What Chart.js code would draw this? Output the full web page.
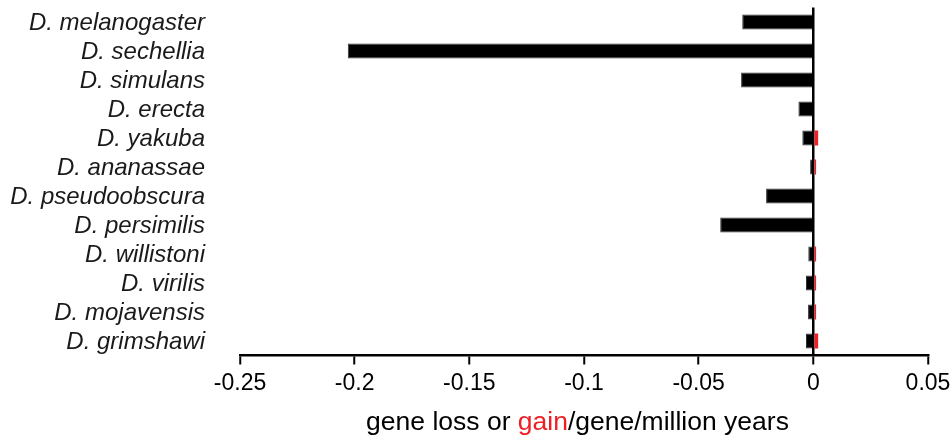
<!DOCTYPE html>
<html>
<head>
<meta charset="utf-8">
<script src="https://cdn.jsdelivr.net/npm/chart.js@4.4.1/dist/chart.umd.min.js"></script>
<style>
  html, body { margin: 0; padding: 0; background: #fff; }
  #wrap { position: relative; width: 952px; height: 440px; }
</style>
</head>
<body>
<div id="wrap"><canvas id="c" width="952" height="440"></canvas></div>
<script>
const species = ['D. melanogaster','D. sechellia','D. simulans','D. erecta','D. yakuba','D. ananassae','D. pseudoobscura','D. persimilis','D. willistoni','D. virilis','D. mojavensis','D. grimshawi'];
const lossValues = [-0.031, -0.203, -0.0315, -0.0065, -0.0048, -0.0014, -0.0206, -0.0406, -0.0022, -0.0032, -0.0023, -0.0032];
const gainValues = [0, 0, 0, 0, 0.0021, 0.0012, 0, 0, 0.0012, 0.0012, 0.0012, 0.0021];
const xTickValues = [-0.25, -0.2, -0.15, -0.1, -0.05, 0, 0.05];
const xTickLabels = ['-0.25', '-0.2', '-0.15', '-0.1', '-0.05', '0', '0.05'];
const titleParts = [['gene loss or ', '#000'], ['gain', '#ee1f25'], ['/gene/million years', '#000']];

const FONT = '"Liberation Sans", Arial, sans-serif';

const titlePlugin = {
  id: 'multiColorTitle',
  afterDraw(chart) {
    const ctx = chart.ctx;
    ctx.save();
    ctx.font = '26.5px ' + FONT;
    ctx.textBaseline = 'middle';
    ctx.textAlign = 'left';
    let total = 0;
    titleParts.forEach(p => total += ctx.measureText(p[0]).width);
    let x = 577.5 - total / 2;
    const y = 423;
    titleParts.forEach(p => {
      ctx.fillStyle = p[1];
      ctx.fillText(p[0], x, y);
      x += ctx.measureText(p[0]).width;
    });
    ctx.restore();
  }
};

new Chart(document.getElementById('c'), {
  type: 'bar',
  data: {
    labels: species,
    datasets: [
      { label: 'loss', data: lossValues, backgroundColor: '#000', borderColor: '#333', borderWidth: 1, categoryPercentage: 0.52, barPercentage: 1 },
      { label: 'gain', data: gainValues, backgroundColor: '#ee1f25', borderColor: '#ee1f25', borderWidth: 0, categoryPercentage: 0.52, barPercentage: 1 }
    ]
  },
  options: {
    indexAxis: 'y',
    responsive: false,
    animation: false,
    layout: { padding: { top: 7.5, right: 24, left: 0, bottom: 0 } },
    plugins: { legend: { display: false }, tooltip: { enabled: false }, title: { display: false } },
    scales: {
      x: {
        type: 'linear',
        stacked: true,
        min: -0.25,
        max: 0.05,
        z: 1,
        afterBuildTicks(scale) { scale.ticks = xTickValues.map(v => ({ value: v })); },
        afterFit(scale) { scale.height = 84.5; scale.paddingLeft = 0; scale.paddingRight = 0; },
        ticks: {
          autoSkip: false,
          maxRotation: 0,
          color: '#000',
          padding: 5,
          font: { family: FONT, size: 23 },
          callback(value) { const i = xTickValues.findIndex(t => Math.abs(t - value) < 1e-9); return i >= 0 ? xTickLabels[i] : ''; }
        },
        grid: {
          drawOnChartArea: true,
          color: ctx => (ctx.tick && Math.abs(ctx.tick.value) < 1e-9) ? '#000' : 'rgba(0,0,0,0)',
          lineWidth: 2.5,
          tickColor: '#000',
          tickLength: 9,
          tickWidth: 2
        },
        border: { display: true, color: '#000', width: 2.5 }
      },
      y: {
        stacked: true,
        afterFit(scale) { scale.width = 240; scale.paddingTop = 0; scale.paddingBottom = 0; },
        ticks: {
          autoSkip: false,
          color: '#1a1a1a',
          padding: 35,
          labelOffset: 1.5,
          font: { family: FONT, size: 24, style: 'italic' }
        },
        grid: { display: false, drawTicks: false },
        border: { display: false }
      }
    }
  },
  plugins: [titlePlugin]
});
</script>
</body>
</html>
